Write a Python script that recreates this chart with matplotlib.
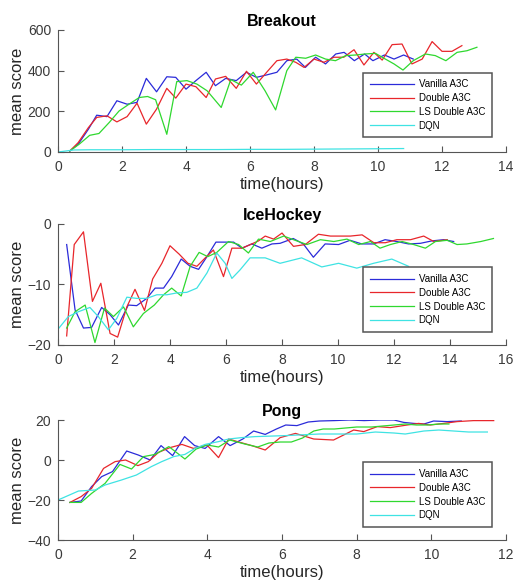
import matplotlib
matplotlib.use('Agg')
import matplotlib.pyplot as plt

plt.rcParams['font.family'] = ['Liberation Sans', 'DejaVu Sans']

labels = ['Vanilla A3C', 'Double A3C', 'LS Double A3C', 'DQN']
colors = ['#2b2bd9', '#e8262b', '#2fd82f', '#3fe3e3']

# ---- Breakout ----
bo_van_t = [0.37, 0.63, 0.95, 1.21, 1.53, 1.84, 2.16, 2.47, 2.76, 3.08, 3.4, 3.68, 4.0, 4.31, 4.63,
            4.92, 5.24, 5.57, 5.89, 6.2, 6.52, 6.84, 7.15, 7.46, 7.73, 8.05, 8.36, 8.68, 8.94, 9.26,
            9.58, 9.84, 10.2, 10.5, 10.8, 11.1]
bo_van = [5, 38, 112, 181, 174, 252, 235, 244, 362, 296, 370, 367, 309, 351, 392,
          326, 362, 351, 392, 367, 379, 392, 449, 457, 416, 466, 433, 482, 490, 449,
          482, 449, 477, 457, 477, 457]
bo_dbl_t = [0.37, 0.63, 0.95, 1.21, 1.53, 1.84, 2.16, 2.47, 2.76, 3.08, 3.4, 3.68, 4.0, 4.31, 4.63,
            4.92, 5.24, 5.57, 5.89, 6.2, 6.52, 6.84, 7.15, 7.43, 7.69, 8.0, 8.31, 8.62, 8.93, 9.25,
            9.56, 9.87, 10.13, 10.44, 10.75, 11.06, 11.38, 11.69, 12.0, 12.31, 12.62]
bo_dbl = [5, 46, 120, 170, 178, 148, 174, 240, 137, 211, 313, 265, 334, 321, 268,
          359, 372, 313, 397, 334, 392, 449, 457, 441, 416, 457, 441, 466, 466, 503,
          428, 490, 452, 528, 531, 433, 457, 543, 495, 495, 523]
bo_ls_t = [0.37, 0.66, 0.99, 1.28, 1.6, 1.91, 2.22, 2.54, 2.8, 3.05, 3.4, 3.71, 4.03, 4.34, 4.66,
           5.1, 5.4, 5.73, 6.1, 6.47, 6.8, 7.15, 7.43, 7.74, 8.05, 8.36, 8.67, 8.99, 9.3, 9.6,
           9.92, 10.23, 10.5, 10.78, 11.1, 11.48, 11.79, 12.12, 12.47, 12.78, 13.09]
bo_ls = [5, 38, 82, 91, 145, 202, 235, 268, 273, 257, 87, 346, 351, 334, 301,
         219, 356, 329, 392, 301, 207, 400, 466, 461, 477, 457, 449, 474, 477, 482,
         485, 457, 433, 403, 449, 482, 474, 449, 490, 498, 515]
bo_dqn_t = [0, 0.5, 1, 2, 3, 4, 5, 6, 7, 8, 9, 10, 10.8]
bo_dqn = [0, 10, 11, 11, 12, 12, 12, 13, 13, 14, 15, 16, 17]

# ---- IceHockey ----
ih_van_t = [0.31, 0.61, 0.91, 1.2, 1.56, 1.86, 2.16, 2.51, 2.81, 3.17, 3.47, 3.77, 4.06, 4.4, 4.72,
            5.02, 5.32, 5.64, 5.97, 6.27, 6.57, 6.92, 7.28, 7.64, 7.93, 8.4, 8.76, 9.12, 9.54, 10.02,
            10.43, 10.85, 11.27, 11.68, 12.1, 12.52, 12.94, 13.35, 13.77, 14.13]
ih_van = [-3.4, -14.2, -17.2, -17.1, -13.8, -15.0, -16.7, -13.4, -13.5, -12.3, -10.6, -10.6, -8.7, -5.8, -7.0,
          -7.5, -5.4, -3.0, -3.0, -3.0, -4.0, -3.3, -4.0, -3.3, -3.2, -2.4, -3.3, -5.5, -3.3, -3.4,
          -2.7, -3.3, -3.3, -2.6, -2.9, -3.3, -3.2, -2.8, -2.6, -2.9]
ih_dbl_t = [0.31, 0.58, 0.91, 1.23, 1.53, 1.86, 2.13, 2.46, 2.75, 3.09, 3.38, 3.71, 4.0, 4.33, 4.64,
            4.96, 5.26, 5.55, 5.91, 6.21, 6.57, 6.92, 7.16, 7.4, 7.7, 8.0, 8.41, 8.83, 9.3, 9.73,
            10.08, 10.44, 10.86, 11.28, 11.69, 12.1, 12.59, 13.06, 13.42, 13.9]
ih_dbl = [-18.5, -3.4, -1.3, -12.8, -9.8, -18.1, -18.7, -13.7, -10.8, -14.3, -9.1, -6.5, -3.6, -5.0, -6.5,
          -7.0, -5.6, -4.3, -8.7, -4.0, -4.0, -3.3, -2.8, -2.0, -2.5, -1.5, -3.7, -3.4, -1.7, -2.0,
          -2.0, -2.0, -1.8, -3.1, -3.1, -2.6, -2.6, -2.0, -2.9, -2.6]
ih_ls_t = [0.31, 0.61, 0.97, 1.32, 1.66, 1.98, 2.34, 2.69, 3.05, 3.44, 3.77, 4.06, 4.4, 4.72, 5.04,
           5.35, 5.67, 6.09, 6.45, 6.8, 7.16, 7.58, 8.06, 8.41, 8.89, 9.37, 9.85, 10.32, 10.74, 11.16,
           11.5, 11.87, 12.29, 12.7, 13.12, 13.48, 13.9, 14.25, 14.6, 15.1, 15.55]
ih_ls = [-17.2, -14.5, -13.4, -19.6, -13.9, -15.3, -13.7, -17.0, -14.8, -13.4, -11.7, -10.6, -11.9, -7.0, -4.7,
         -5.4, -4.7, -2.9, -3.4, -4.8, -2.5, -2.9, -2.0, -2.6, -3.4, -2.6, -2.9, -2.5, -3.4, -2.9,
         -4.0, -3.4, -2.9, -3.4, -4.0, -2.9, -2.7, -3.4, -3.3, -2.9, -2.4]
ih_dqn_t = [0, 0.37, 0.73, 1.14, 1.44, 1.8, 2.1, 2.46, 2.81, 3.17, 3.53, 3.89, 4.24, 4.6, 4.96,
            5.32, 5.67, 5.97, 6.21, 6.5, 6.86, 7.4, 7.93, 8.7, 9.42, 10.02, 10.67, 11.27, 11.92, 12.52]
ih_dqn = [-17.4, -15.3, -14.5, -13.8, -15.3, -17.5, -15.6, -12.1, -12.3, -12.3, -11.7, -11.7, -11.4, -11.3, -10.6,
          -8.1, -4.8, -6.5, -9.0, -7.6, -5.6, -5.6, -6.5, -5.6, -7.1, -6.5, -7.3, -6.5, -5.8, -7.0]

# ---- Pong ----
pg_van_t = [0.32, 0.62, 0.9, 1.17, 1.46, 1.84, 2.15, 2.47, 2.76, 3.07, 3.39, 3.66, 3.94, 4.3, 4.61,
            4.95, 5.24, 5.55, 5.85, 6.1, 6.4, 6.7, 7.0, 7.4, 7.8, 8.2, 8.6, 9.0, 9.26, 9.53,
            9.8, 10.06, 10.42, 10.8]
pg_van = [-21.2, -20.5, -13.3, -8.3, -5.8, 4.5, 2.5, 0, 7.2, 2.2, 11.7, 7.2, 5.8, 11.7, 7.2,
          10.5, 14.5, 12.8, 15.5, 17.5, 17.2, 19.0, 19.5, 19.7, 20, 19.7, 20, 20, 18.8, 18.3,
          18.0, 19.5, 19.2, 19.5]
pg_dbl_t = [0.32, 0.62, 0.9, 1.22, 1.53, 1.81, 2.14, 2.42, 2.69, 3.0, 3.32, 3.63, 3.99, 4.3, 4.57,
            4.88, 5.19, 5.55, 5.95, 6.36, 6.85, 7.38, 7.92, 8.19, 8.55, 8.9, 9.35, 9.66, 9.97, 10.33,
            10.69, 11.13, 11.67]
pg_dbl = [-21.2, -18.3, -14.2, -4.2, -0.8, 0, -2.8, -0.8, 3.8, 6.2, 7.8, 5.8, 7.5, 1.2, 10.5,
          8.8, 7.2, 5.0, 11.2, 13.3, 10.5, 10.0, 15.0, 14.2, 16.7, 16.2, 17.5, 18.3, 17.5, 18.3,
          19.2, 19.7, 19.7]
pg_ls_t = [0.32, 0.62, 0.9, 1.26, 1.66, 1.97, 2.29, 2.6, 2.97, 3.4, 3.7, 4.0, 4.3, 4.6, 5.0,
           5.35, 5.65, 5.95, 6.25, 6.55, 6.85, 7.1, 7.4, 7.7, 8.0, 8.4, 8.7, 9.0, 9.3, 9.6,
           9.9, 10.2, 10.47]
pg_ls = [-21.2, -21.2, -16.7, -11.7, -2.2, -4.5, 1.7, 2.8, 6.7, 0.5, 5.5, 7.5, 6.5, 10.0, 8.0,
         6.5, 8.5, 9.0, 9.0, 11.0, 14.5, 15.5, 15.5, 16.0, 16.5, 16.5, 17.0, 17.5, 18.0, 17.5,
         17.5, 18.0, 18.0]
pg_dqn_t = [0, 0.55, 1.0, 1.26, 1.7, 2.1, 2.5, 2.78, 3.1, 3.4, 3.67, 3.94, 4.3, 4.57, 4.92,
            5.28, 6.09, 7.0, 8.0, 8.5, 9.0, 9.3, 9.8, 10.2, 10.6, 11.0, 11.5]
pg_dqn = [-20, -15.5, -15, -12.5, -10, -7.5, -3.3, -0.8, 1.7, 2.8, 5.8, 7.8, 9.2, 10.5, 11.2,
          11.7, 12.2, 13, 13, 14, 13.5, 13, 14.5, 15, 14.5, 14, 14]


def draw(ax, title, series, xmax, ylim, yticks, xticks, leg_y):
    for (t, v), c, lab in zip(series, colors, labels):
        ax.plot(t, v, color=c, lw=0.9, label=lab)
    ax.set_xlim(0, xmax)
    ax.set_ylim(*ylim)
    ax.set_xticks(xticks)
    ax.set_yticks(yticks)
    ax.set_title(title, fontsize=11.5, fontweight='bold', pad=3)
    ax.set_xlabel('time(hours)', fontsize=12, color='#262626', labelpad=2)
    ax.set_ylabel('mean score', fontsize=12, color='#262626', labelpad=2)
    ax.spines['top'].set_visible(False)
    ax.spines['right'].set_visible(False)
    for s in ['left', 'bottom']:
        ax.spines[s].set_color('#555555')
        ax.spines[s].set_linewidth(0.8)
    ax.tick_params(direction='in', length=4, width=0.8, color='#555555',
                   labelcolor='#3a3a3a', labelsize=10)
    ax.tick_params(axis='x', pad=6)
    ax.tick_params(axis='y', pad=5)
    # legend box sits in the lower right corner
    leg = ax.legend(loc='lower right', bbox_to_anchor=(0.968, leg_y), fontsize=7,
                    handlelength=4.5, labelspacing=0.38, fancybox=False,
                    framealpha=1, borderpad=0.7, handletextpad=0.5, borderaxespad=0)
    leg.get_frame().set_edgecolor('#555555')
    leg.get_frame().set_linewidth(1.1)


fig = plt.figure(figsize=(5.15, 5.88), dpi=100)
ax1 = fig.add_axes([0.1126, 0.7415, 0.870, 0.2075])
ax2 = fig.add_axes([0.1126, 0.4133, 0.870, 0.2058])
ax3 = fig.add_axes([0.1126, 0.0816, 0.870, 0.2041])

draw(ax1, 'Breakout',
     [(bo_van_t, bo_van), (bo_dbl_t, bo_dbl), (bo_ls_t, bo_ls), (bo_dqn_t, bo_dqn)],
     14, (0, 600), [0, 200, 400, 600], range(0, 15, 2), 0.12)
draw(ax2, 'IceHockey',
     [(ih_van_t, ih_van), (ih_dbl_t, ih_dbl), (ih_ls_t, ih_ls), (ih_dqn_t, ih_dqn)],
     16, (-20, 0), [-20, -10, 0], range(0, 17, 2), 0.107)
draw(ax3, 'Pong',
     [(pg_van_t, pg_van), (pg_dbl_t, pg_dbl), (pg_ls_t, pg_ls), (pg_dqn_t, pg_dqn)],
     12, (-40, 20), [-40, -20, 0, 20], range(0, 13, 2), 0.108)

fig.savefig('out.png', dpi=100)
